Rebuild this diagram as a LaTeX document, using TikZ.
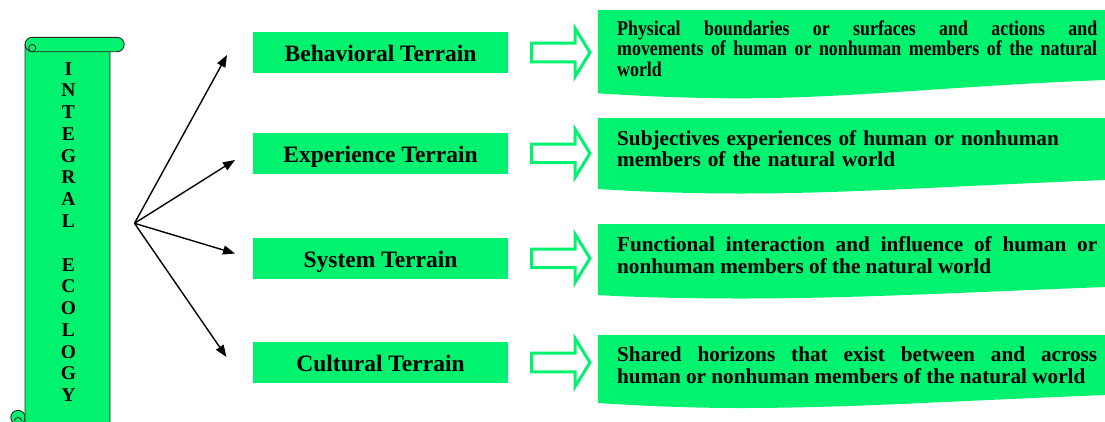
\documentclass[tikz,border=0pt]{standalone}
\usepackage{fontspec}
\setmainfont{Liberation Serif}
\newfontfamily\condserif[FakeStretch=0.85]{Liberation Serif}
\usetikzlibrary{arrows.meta}
\definecolor{grn}{RGB}{0,242,110}
\definecolor{edgegray}{RGB}{40,40,40}
\begin{document}
\begin{tikzpicture}[x=1pt,y=-1pt,
  termbox/.style={fill=grn, minimum width=255pt, minimum height=40.5pt, inner sep=0pt,
    text height=17.6pt, text depth=0pt, font=\fontsize{23.5}{26}\selectfont\bfseries},
  descbox/.style={anchor=base west, text width=480pt, inner sep=0pt, align=justify,
    font=\fontsize{21.2}{21.7}\selectfont\bfseries,
    execute at begin node={\hyphenpenalty=10000\relax\exhyphenpenalty=10000\relax}},
  linkarrow/.style={line width=1.4pt, -{Triangle[length=12pt,width=9pt]}},
  blockarrow/.style={draw=grn, line width=3pt, fill=white},
  panel/.style={fill=grn},
  scrolledge/.style={draw=edgegray, line width=0.9pt, fill=grn},
  scrollline/.style={draw=edgegray, line width=0.9pt}
]
\useasboundingbox (0,0) rectangle (1105,421);

% ---- scroll ----
\draw[scrolledge] (18,417.5) circle (7.2);
\draw[scrollline] (14.4,421) arc (180:360:3.6);
\draw[scrolledge] (110,430) -- (110,51.7) -- (117,51.7) arc (90:-90:7.2)
  -- (32.2,37.3) arc (-90:-180:7.2) -- (25,430) -- cycle;
\draw[scrollline] (110,51.7) -- (32.2,51.7) arc (90:180:7.2);
\draw[scrollline] (32.2,48.1) circle (3.6);
\node[anchor=base, text width=24pt, align=center, inner sep=0pt,
  font=\fontsize{19.5}{21.78}\selectfont\bfseries] (scrolltext) at (68.5,75)
  {I\\N\\T\\E\\G\\R\\A\\L\\~\\E\\C\\O\\L\\O\\G\\Y};

% ---- fan of arrows ----
\coordinate (hub) at (134.5,223.3);
\coordinate (a1) at (227,55);
\coordinate (a2) at (235,160);
\coordinate (a3) at (235,253.5);
\coordinate (a4) at (226.5,357);
\draw[linkarrow] (hub) -- (a1);
\draw[linkarrow] (hub) -- (a2);
\draw[linkarrow] (hub) -- (a3);
\draw[linkarrow] (hub) -- (a4);

% ---- terrain boxes ----
\node[termbox] (t1) at (380.5,52.5) {Behavioral Terrain};
\node[termbox] (t2) at (380.5,153.3) {Experience Terrain};
\node[termbox] (t3) at (380.5,258.3) {System Terrain};
\node[termbox] (t4) at (380.5,362.5) {Cultural Terrain};

% ---- block arrows ----
\foreach \y in {52.5,153.3,258.3,362.5} {
  \draw[blockarrow] (531.5,\y-9.3) -- (575,\y-9.3) -- (575,\y-24.3) -- (590,\y)
    -- (575,\y+24.3) -- (575,\y+9.3) -- (531.5,\y+9.3) -- cycle;
}

% ---- description panels ----
\foreach \T/\L/\D/\R in {10/93.3/98.3/80, 118/189/193.5/180, 224/295/298.5/287, 335/403/408/395} {
  \fill[panel] (598,\T) -- (1105,\T) -- (1105,\R)
    .. controls (950,\R+6) and (850,\D) .. (740,\D)
    .. controls (680,\D) and (630,\L+2) .. (598,\L) -- cycle;
}
\node[descbox, font=\condserif\fontsize{21}{20.5}\selectfont\bfseries] (d1) at (617,35)
  {Physical boundaries or surfaces and actions and\linebreak movements of human or nonhuman members of the natural world};
\node[descbox, align=left] (d2) at (617,145)
  {Subjectives experiences of human or nonhuman members of the natural world};
\node[descbox] (d3) at (617,251.7)
  {Functional interaction and influence of human or\linebreak nonhuman members of the natural world};
\node[descbox] (d4) at (617,361.7)
  {Shared horizons that exist between and across\linebreak human or nonhuman members of the natural world};
\end{tikzpicture}
\end{document}
